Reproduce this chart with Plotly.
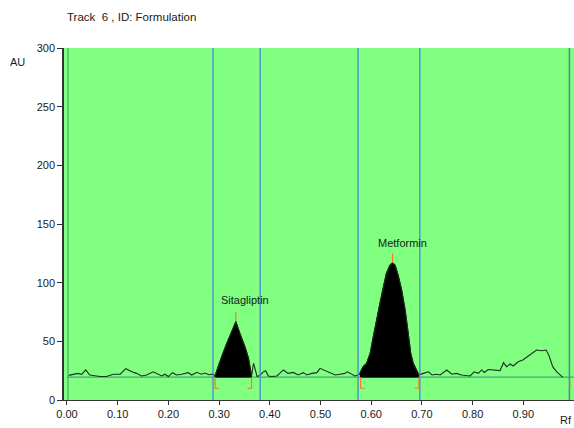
import plotly.graph_objects as go

# ---- data ----
rf = [0.003, 0.008, 0.014, 0.022, 0.029, 0.037, 0.045, 0.055, 0.065, 0.078, 0.091, 0.105,
      0.116, 0.128, 0.137, 0.147, 0.157, 0.170, 0.177, 0.187, 0.193, 0.200, 0.208, 0.216,
      0.226, 0.239, 0.246, 0.256, 0.265, 0.272, 0.280, 0.288, 0.292, 0.298, 0.305, 0.315,
      0.325, 0.333, 0.341, 0.351, 0.358, 0.362, 0.364, 0.368, 0.372, 0.375, 0.381, 0.387,
      0.392, 0.397, 0.404, 0.414, 0.427, 0.436, 0.446, 0.456, 0.466, 0.473, 0.483, 0.493,
      0.499, 0.509, 0.519, 0.529, 0.538, 0.548, 0.553, 0.558, 0.568, 0.576, 0.579, 0.584,
      0.591, 0.598, 0.604, 0.611, 0.617, 0.624, 0.630, 0.637, 0.642, 0.647, 0.653, 0.660,
      0.667, 0.673, 0.678, 0.683, 0.690, 0.694, 0.703, 0.713, 0.720, 0.729, 0.736, 0.749,
      0.759, 0.768, 0.778, 0.788, 0.795, 0.803, 0.811, 0.818, 0.823, 0.831, 0.841, 0.854,
      0.861, 0.867, 0.874, 0.880, 0.890, 0.899, 0.910, 0.918, 0.926, 0.936, 0.945, 0.951,
      0.958, 0.966, 0.978]
au = [21.0, 21.5, 22.0, 22.7, 21.8, 25.6, 21.3, 20.5, 20.0, 20.0, 22.0, 22.0,
      26.7, 24.0, 22.7, 20.5, 21.3, 24.0, 22.7, 20.5, 22.0, 20.0, 23.3, 21.3,
      22.0, 23.3, 21.3, 23.6, 22.0, 23.0, 21.5, 22.0, 20.5, 28.4, 37.0, 48.3,
      58.2, 66.8, 56.8, 45.4, 35.5, 27.0, 20.5, 31.3, 26.0, 20.0, 21.0, 24.0,
      25.0, 20.5, 20.0, 20.5, 25.6, 22.7, 23.5, 21.3, 23.3, 21.3, 22.7, 23.3,
      27.0, 25.0, 22.7, 21.3, 22.0, 22.7, 24.0, 22.7, 20.5, 21.5, 24.0, 28.4,
      31.3, 39.8, 54.0, 68.2, 82.4, 96.6, 108.0, 115.0, 117.0, 115.0, 106.6, 93.8,
      76.7, 56.8, 39.8, 31.3, 24.0, 21.3, 22.7, 24.0, 21.3, 22.0, 21.3, 25.6,
      22.0, 22.7, 21.3, 20.5, 20.5, 24.0, 22.7, 25.6, 23.5, 26.0, 25.6, 25.0,
      31.8, 28.4, 30.7, 29.0, 32.6, 34.1, 37.5, 39.8, 42.6, 42.0, 42.6, 37.5,
      28.4, 24.0, 19.3]

baseline_au = 19.5
peak_names = ["Sitagliptin", "Metformin"]
peak_start = [0.292, 0.579]
peak_end = [0.364, 0.694]
peak_max_rf = [0.333, 0.642]
peak_max_au = [66.8, 117.0]
label_rf = [0.352, 0.661]
label_au = [85, 134]
window_lines = [0.288, 0.381, 0.574, 0.696]
x_ticks = [0.0, 0.1, 0.2, 0.3, 0.4, 0.5, 0.6, 0.7, 0.8, 0.9]
y_ticks = [0, 50, 100, 150, 200, 250, 300]

ORANGE = "#f07f1a"
TXT = dict(size=11, color="#1a1a1a", family="Liberation Sans")
fig = go.Figure()

# baseline
fig.add_trace(go.Scatter(x=[0.0, 1.0], y=[baseline_au, baseline_au], mode="lines",
                         line=dict(color="#3d8d8d", width=1), hoverinfo="skip"))

# filled peaks
for s, e in zip(peak_start, peak_end):
    px = [x for x in rf if s <= x <= e]
    py = [y for x, y in zip(rf, au) if s <= x <= e]
    fx = [s] + px + [e, s]
    fy = [baseline_au] + py + [baseline_au, baseline_au]
    fig.add_trace(go.Scatter(x=fx, y=fy, mode="lines", fill="toself",
                             fillcolor="black", line=dict(color="black", width=1),
                             hoverinfo="skip"))

# profile
fig.add_trace(go.Scatter(x=rf, y=au, mode="lines",
                         line=dict(color="#1c2e1c", width=1.1), hoverinfo="skip"))

shapes = []
shapes.append(dict(type="line", xref="x", yref="paper", x0=0.002, x1=0.002, y0=0, y1=1,
                   line=dict(color="#3a9a60", width=1)))
for xv in window_lines:
    shapes.append(dict(type="line", xref="x", yref="paper", x0=xv, x1=xv, y0=0, y1=1,
                       line=dict(color="#4a86d6", width=1.3)))
shapes.append(dict(type="line", xref="x", yref="paper", x0=0.991, x1=0.991, y0=0, y1=1,
                   line=dict(color="#3a8f8f", width=1.5)))

for s, e, mx, my in zip(peak_start, peak_end, peak_max_rf, peak_max_au):
    shapes.append(dict(type="line", xref="x", yref="y", x0=mx, x1=mx, y0=my, y1=my + 8,
                       line=dict(color=ORANGE, width=1.2)))
    shapes.append(dict(type="path", xref="x", yref="y",
                       path=f"M {s} {baseline_au} L {s} 10 L {s + 0.008} 10",
                       line=dict(color=ORANGE, width=1.2)))
    shapes.append(dict(type="path", xref="x", yref="y",
                       path=f"M {e} {baseline_au} L {e} 10 L {e - 0.008} 10",
                       line=dict(color=ORANGE, width=1.2)))
shapes.append(dict(type="line", xref="x", yref="y", x0=0.992, x1=0.992, y0=11, y1=17,
                   line=dict(color=ORANGE, width=1.2)))

annotations = []
for n, lx, ly in zip(peak_names, label_rf, label_au):
    annotations.append(dict(x=lx, y=ly, xref="x", yref="y", text=n, showarrow=False, font=TXT))
annotations.append(dict(x=0.002, y=1.088, xref="paper", yref="paper", xanchor="left",
                        yanchor="middle", text="Track  6 , ID: Formulation", showarrow=False,
                        font=dict(size=11.5, color="#1a1a1a", family="Liberation Sans")))
annotations.append(dict(x=-0.11, y=0.96, xref="paper", yref="paper", xanchor="left",
                        yanchor="middle", text="AU", showarrow=False, font=TXT))
annotations.append(dict(x=1.0, y=-0.058, xref="paper", yref="paper", xanchor="right",
                        yanchor="middle", text="Rf", showarrow=False, font=TXT))

fig.update_layout(
    width=574, height=428,
    margin=dict(l=64, r=0, t=48, b=28),
    paper_bgcolor="white", plot_bgcolor="#80ff80",
    showlegend=False,
    shapes=shapes, annotations=annotations,
    font=dict(family="Liberation Sans", size=11, color="#1a1a1a"),
    xaxis=dict(range=[-0.0059, 1.0], tickvals=x_ticks,
               ticktext=[f"{v:.2f}" for v in x_ticks], showgrid=False, zeroline=False,
               showline=True, linecolor="#333", linewidth=1, ticks="outside", ticklen=4,
               tickcolor="#333", tickfont=dict(size=11)),
    yaxis=dict(range=[0, 300], tickvals=y_ticks, showgrid=False, zeroline=False,
               showline=True, linecolor="#333", linewidth=1.5, ticks="outside", ticklen=5,
               tickcolor="#333", tickfont=dict(size=11)),
)

fig.write_html("out.html", config={"displayModeBar": False},
               post_script="document.body.style.margin='0';document.body.style.overflow='hidden';")
